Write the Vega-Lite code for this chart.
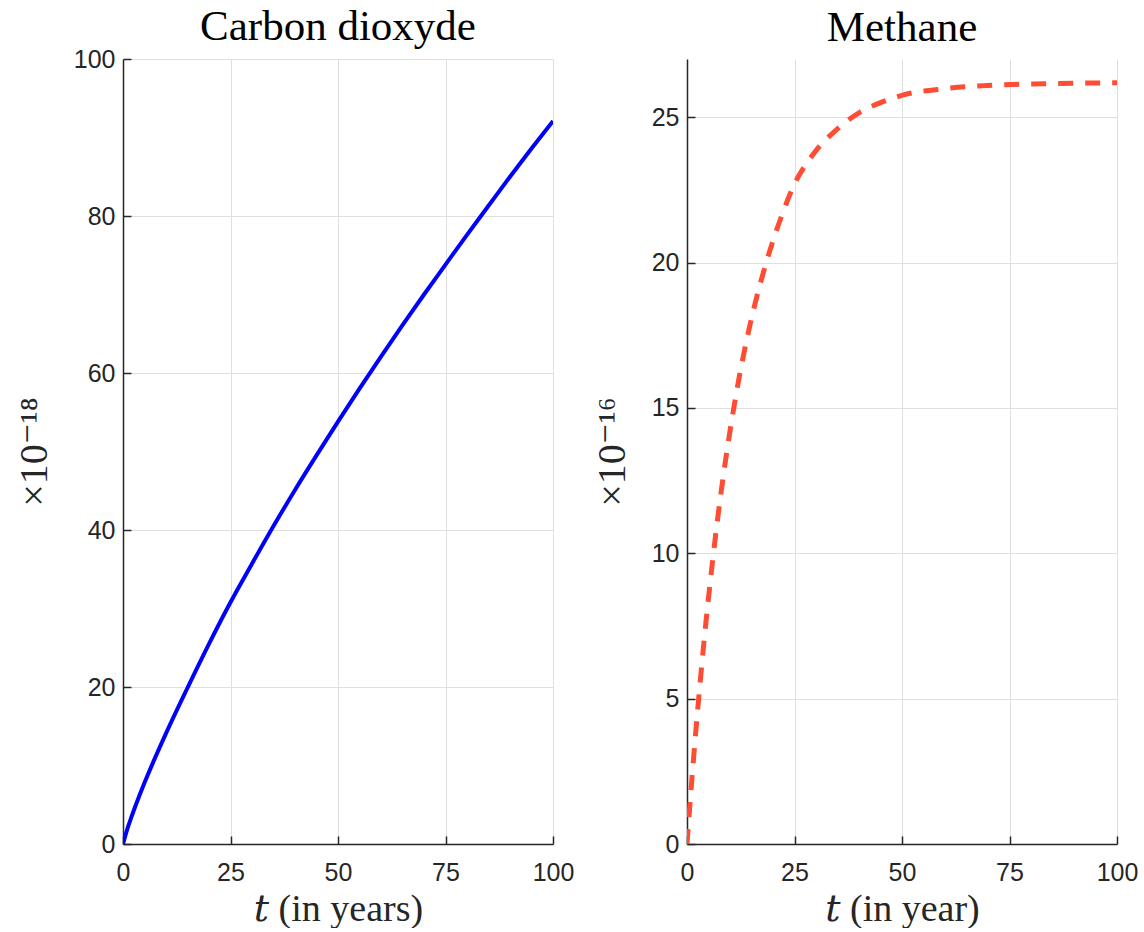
{
  "$schema": "https://vega.github.io/schema/vega-lite/v6.json",
  "padding": {"left": 14, "top": 6, "right": 2, "bottom": 0},
  "background": "white",
  "spacing": 18,
  "datasets": {
    "co2": [
      {"t": 0, "v": 0}, {"t": 1, "v": 1.9}, {"t": 2, "v": 3.5}, {"t": 3, "v": 5.0},
      {"t": 5, "v": 7.8}, {"t": 7, "v": 10.4}, {"t": 10, "v": 14.1}, {"t": 15, "v": 19.9},
      {"t": 20, "v": 25.5}, {"t": 25, "v": 30.8}, {"t": 30, "v": 35.7}, {"t": 35, "v": 40.5},
      {"t": 40, "v": 45.1}, {"t": 45, "v": 49.5}, {"t": 50, "v": 53.8}, {"t": 55, "v": 58.0},
      {"t": 60, "v": 62.1}, {"t": 65, "v": 66.1}, {"t": 70, "v": 70.0}, {"t": 75, "v": 73.8},
      {"t": 80, "v": 77.6}, {"t": 85, "v": 81.3}, {"t": 90, "v": 85.0}, {"t": 95, "v": 88.6},
      {"t": 100, "v": 92.1}
    ],
    "ch4": [
      {"t": 0, "v": 0}, {"t": 1, "v": 1.97}, {"t": 2, "v": 3.79}, {"t": 3, "v": 5.47},
      {"t": 4, "v": 7.03}, {"t": 5, "v": 8.47}, {"t": 6, "v": 9.8}, {"t": 8, "v": 12.18},
      {"t": 10, "v": 14.2}, {"t": 12, "v": 15.94}, {"t": 14, "v": 17.42}, {"t": 16, "v": 18.69},
      {"t": 18, "v": 19.78}, {"t": 20, "v": 20.75}, {"t": 22, "v": 21.6}, {"t": 25, "v": 22.7},
      {"t": 28, "v": 23.45}, {"t": 30, "v": 23.85}, {"t": 35, "v": 24.6}, {"t": 40, "v": 25.15},
      {"t": 45, "v": 25.5}, {"t": 50, "v": 25.75}, {"t": 60, "v": 25.98}, {"t": 70, "v": 26.09},
      {"t": 80, "v": 26.14}, {"t": 90, "v": 26.17}, {"t": 100, "v": 26.18}
    ]
  },
  "hconcat": [
    {
      "width": 430,
      "height": 785,
      "title": {"text": "Carbon dioxyde", "offset": -2},
      "data": {"name": "co2"},
      "mark": {"type": "line", "color": "#0000FF", "strokeWidth": 4, "interpolate": "monotone", "clip": true},
      "encoding": {
        "x": {"field": "t", "type": "quantitative", "scale": {"domain": [0, 100], "nice": false},
              "axis": {"values": [0, 25, 50, 75, 100], "title": "𝑡 (in years)"}},
        "y": {"field": "v", "type": "quantitative", "scale": {"domain": [0, 100], "nice": false},
              "axis": {"values": [0, 20, 40, 60, 80, 100], "title": "×10⁻¹⁸"}}
      }
    },
    {
      "width": 430,
      "height": 785,
      "title": {"text": "Methane", "offset": 9},
      "data": {"name": "ch4"},
      "mark": {"type": "line", "color": "#FF4D33", "strokeWidth": 5, "strokeDash": [15, 12], "interpolate": "monotone", "clip": true},
      "encoding": {
        "x": {"field": "t", "type": "quantitative", "scale": {"domain": [0, 100], "nice": false},
              "axis": {"values": [0, 25, 50, 75, 100], "title": "𝑡 (in year)"}},
        "y": {"field": "v", "type": "quantitative", "scale": {"domain": [0, 27], "nice": false},
              "axis": {"values": [0, 5, 10, 15, 20, 25], "title": "×10⁻¹⁶"}}
      }
    }
  ],
  "config": {
    "view": {"stroke": null},
    "title": {"font": "Liberation Serif", "fontSize": 43, "fontWeight": "normal", "color": "#000000", "anchor": "middle"},
    "axis": {
      "labelFont": "Liberation Sans",
      "labelFontSize": 25,
      "labelColor": "#262626",
      "labelFlush": false,
      "titleFont": "Liberation Serif, DejaVu Serif",
      "titleFontWeight": "normal",
      "titleColor": "#262626",
      "domainColor": "#262626",
      "domainWidth": 1.5,
      "tickColor": "#262626",
      "tickWidth": 1.5,
      "tickSize": -8,
      "gridColor": "#DFDFDF",
      "gridWidth": 1
    },
    "axisX": {"labelAngle": 0, "labelPadding": 24, "titleFontSize": 38, "titlePadding": 5},
    "axisY": {"labelPadding": 16, "titleFontSize": 40, "titlePadding": 19}
  }
}
